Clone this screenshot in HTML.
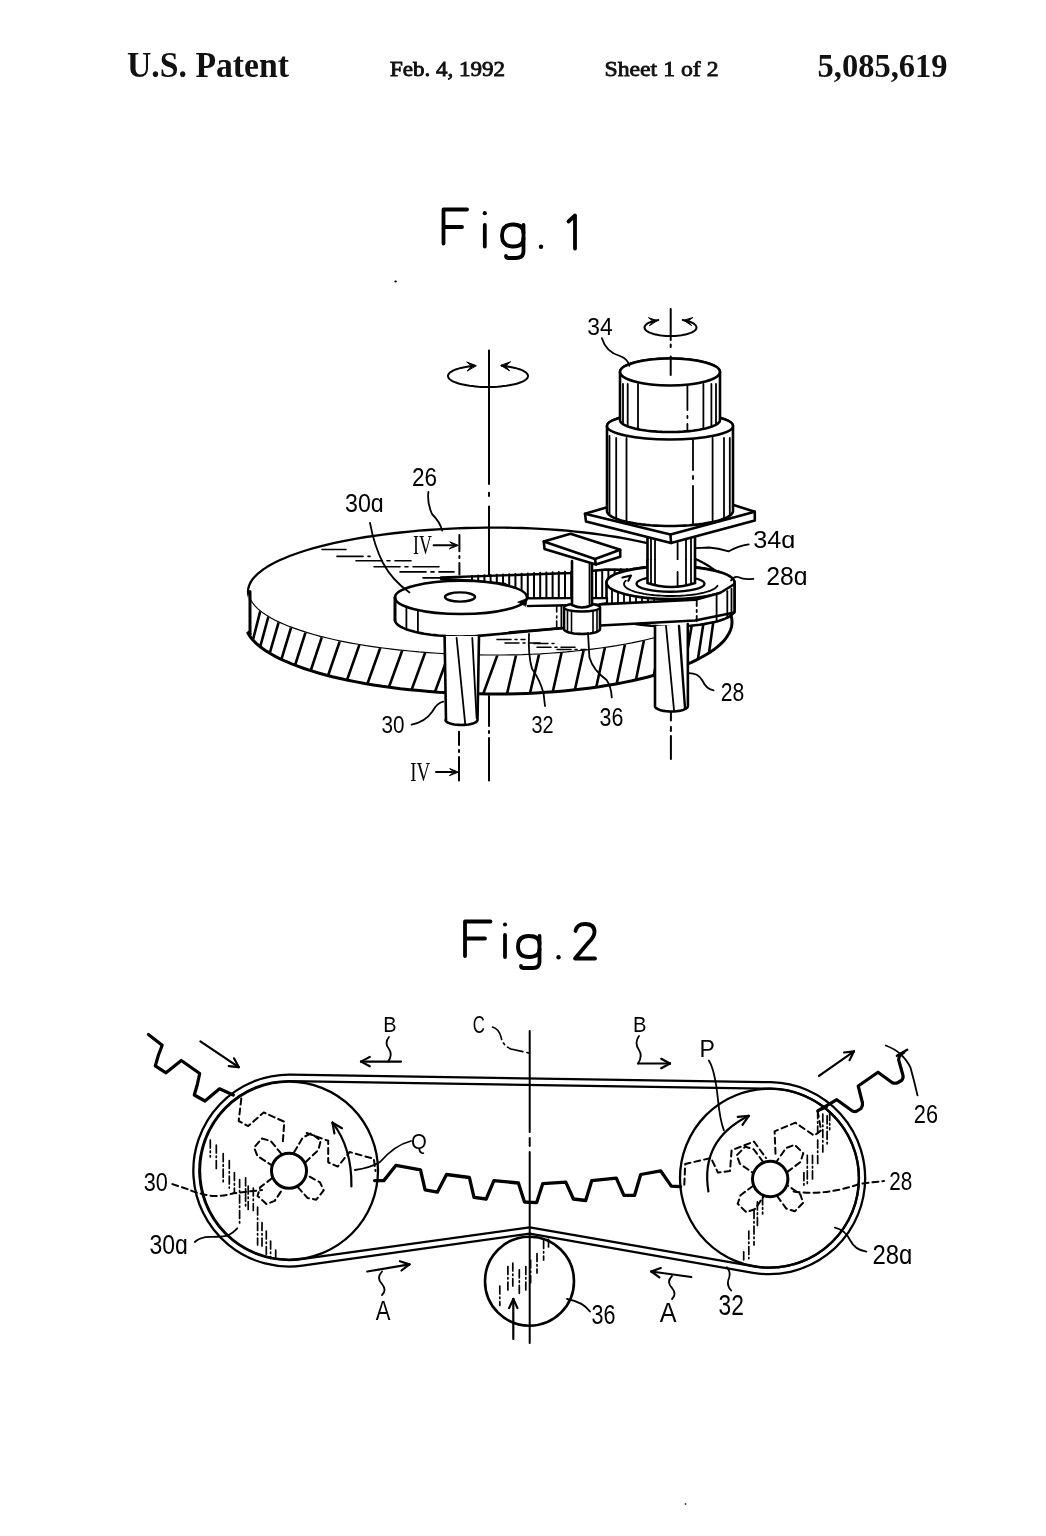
<!DOCTYPE html>
<html><head><meta charset="utf-8"><style>
html,body{margin:0;padding:0;background:#fff;}
body{width:1046px;height:1536px;overflow:hidden;position:relative;}
.h{position:absolute;font-family:"Liberation Serif",serif;font-weight:bold;color:#111;white-space:nowrap;line-height:1;}
svg{position:absolute;left:0;top:0;will-change:transform;}
</style></head><body>
<svg width="1046" height="1536" viewBox="0 0 1046 1536" stroke-linecap="round">
<text x="127" y="76.5" font-family="Liberation Serif" font-weight="bold" font-size="36" textLength="162" lengthAdjust="spacingAndGlyphs" fill="#111">U.S. Patent</text>
<text x="390" y="76" font-family="Liberation Serif" font-size="22" stroke="#111" stroke-width="0.9" textLength="115" lengthAdjust="spacingAndGlyphs" fill="#111">Feb. 4, 1992</text>
<text x="604.5" y="75.8" font-family="Liberation Serif" font-size="22" stroke="#111" stroke-width="0.8" textLength="114" lengthAdjust="spacingAndGlyphs" fill="#111">Sheet 1 of 2</text>
<text x="817.5" y="77" font-family="Liberation Serif" font-weight="bold" font-size="33" textLength="130" lengthAdjust="spacingAndGlyphs" fill="#111">5,085,619</text>
<path d="M443.5 243.5 L443.5 209.5 L467 209.5 M443.5 227 L462 227" stroke="#000" stroke-width="3.8" fill="none" stroke-linejoin="round"/>
<line x1="484.8" y1="225.0" x2="484.8" y2="246.5" stroke="#000" stroke-width="3.8" />
<circle cx="484.8" cy="213.2" r="2.1" fill="#000" stroke="#000" stroke-width="0.01" />
<path d="M523.5 225 L523.5 251 Q523.5 258 516 258 L509 258 Q506 258 506 256" stroke="#000" stroke-width="3.8" fill="none" />
<path d="M523.5 233 Q523.5 224.5 513 224.5 Q502 224.5 502 235.5 Q502 246.5 513 246.5 Q523.5 246.5 523.5 238" stroke="#000" stroke-width="3.8" fill="none" />
<circle cx="541.0" cy="246.8" r="2.2" fill="#000" stroke="#000" stroke-width="0.01" />
<path d="M568.5 221.5 L575 215.5 L575 248.5" stroke="#000" stroke-width="3.8" fill="none" stroke-linejoin="round"/>
<path d="M489 350.5 L489 484 M489 492.7 L489 496 M489 506.5 L489 527" stroke="#000" stroke-width="2" fill="none" />
<path d="M489 696 L489 726 M489 731 L489 733 M489 738 L489 780.5" stroke="#000" stroke-width="2" fill="none" />
<path d="M670.9 712 L670.9 720.5 M670.9 727 L670.9 731 M670.9 736 L670.9 759" stroke="#000" stroke-width="2" fill="none" />
<path d="M474.3 365.7 L471.4 366.0 L468.5 366.4 L465.8 366.9 L463.2 367.4 L460.8 367.9 L458.5 368.6 L456.5 369.2 L454.6 369.9 L453.0 370.7 L451.5 371.5 L450.3 372.3 L449.4 373.1 L448.7 374.0 L448.2 374.9 L448.0 375.7 L448.1 376.6 L448.4 377.5 L448.9 378.3 L449.7 379.2 L450.8 380.0 L452.0 380.8 L453.6 381.6 L455.3 382.3 L457.2 383.0 L459.4 383.7 L461.7 384.3 L464.2 384.8 L466.8 385.3 L469.6 385.8 L472.5 386.1 L475.4 386.4 L478.5 386.7 L481.6 386.9 L484.8 387.0 L488.0 387.0 L491.2 387.0 L494.4 386.9 L497.5 386.7 L500.6 386.4 L503.5 386.1 L506.4 385.8 L509.2 385.3 L511.8 384.8 L514.3 384.3 L516.6 383.7 L518.8 383.0 L520.7 382.3 L522.4 381.6 L524.0 380.8 L525.2 380.0 L526.3 379.2 L527.1 378.3 L527.6 377.5 L527.9 376.6 L528.0 375.7 L527.8 374.9 L527.3 374.0 L526.6 373.1 L525.7 372.3 L524.5 371.5 L523.0 370.7 L521.4 369.9 L519.5 369.2 L517.5 368.6 L515.2 367.9 L512.8 367.4 L510.2 366.9 L507.5 366.4 L504.6 366.0 L501.7 365.7" stroke="#000" stroke-width="2" fill="none" />
<path d="M476.0 365.6 L466.7 362.0 L471.5 366.0 L467.4 370.8 Z" fill="#000" stroke="#000" stroke-width="1" stroke-linejoin="round"/>
<path d="M501.0 365.6 L509.6 370.8 L505.5 366.0 L510.3 362.0 Z" fill="#000" stroke="#000" stroke-width="1" stroke-linejoin="round"/>
<path d="M658.3 320.0 L656.3 320.4 L654.4 320.8 L652.7 321.3 L651.1 321.8 L649.6 322.4 L648.4 323.0 L647.2 323.7 L646.3 324.4 L645.6 325.1 L645.0 325.8 L644.7 326.6 L644.5 327.3 L644.6 328.1 L644.8 328.8 L645.3 329.6 L645.9 330.3 L646.8 331.0 L647.8 331.6 L649.0 332.3 L650.4 332.9 L651.9 333.4 L653.6 334.0 L655.4 334.4 L657.3 334.8 L659.4 335.2 L661.5 335.5 L663.7 335.7 L665.9 335.9 L668.2 336.0 L670.5 336.0 L672.8 336.0 L675.1 335.9 L677.3 335.7 L679.5 335.5 L681.6 335.2 L683.7 334.8 L685.6 334.4 L687.4 334.0 L689.1 333.4 L690.6 332.9 L692.0 332.3 L693.2 331.6 L694.2 331.0 L695.1 330.3 L695.7 329.6 L696.2 328.8 L696.4 328.1 L696.5 327.3 L696.3 326.6 L696.0 325.8 L695.4 325.1 L694.7 324.4 L693.8 323.7 L692.6 323.0 L691.4 322.4 L689.9 321.8 L688.3 321.3 L686.6 320.8 L684.7 320.4 L682.7 320.0" stroke="#000" stroke-width="2" fill="none" />
<path d="M657.0 320.5 L648.4 317.7 L653.0 321.1 L649.5 325.5 Z" fill="#000" stroke="#000" stroke-width="1" stroke-linejoin="round"/>
<path d="M684.0 320.5 L691.5 325.5 L688.0 321.1 L692.6 317.7 Z" fill="#000" stroke="#000" stroke-width="1" stroke-linejoin="round"/>
<defs><clipPath id="dside"><path d="M248.0 591.6 L248.2 594.1 L248.8 596.6 L249.7 599.1 L251.0 601.6 L252.7 604.1 L254.8 606.5 L257.3 609.0 L260.1 611.4 L263.3 613.8 L266.8 616.1 L270.7 618.4 L274.9 620.7 L279.5 622.9 L284.4 625.0 L289.6 627.2 L295.2 629.2 L301.0 631.2 L307.2 633.2 L313.6 635.0 L320.3 636.9 L327.3 638.6 L334.6 640.3 L342.1 641.9 L349.8 643.4 L357.8 644.8 L365.9 646.2 L374.3 647.4 L382.9 648.6 L391.6 649.7 L400.5 650.7 L409.5 651.6 L418.7 652.5 L428.0 653.2 L437.3 653.8 L446.8 654.4 L456.4 654.8 L466.0 655.2 L475.6 655.4 L485.3 655.6 L495.0 655.6 L504.1 655.6 L513.3 655.4 L522.4 655.2 L531.4 654.8 L540.5 654.4 L549.4 653.8 L558.2 653.2 L567.0 652.5 L575.6 651.6 L584.2 650.7 L592.5 649.7 L600.8 648.6 L608.8 647.4 L616.7 646.2 L624.4 644.8 L632.0 643.4 L639.2 641.9 L646.3 640.3 L653.2 638.6 L659.8 636.9 L666.1 635.0 L672.2 633.2 L678.0 631.2 L683.5 629.2 L688.7 627.2 L693.7 625.0 L698.3 622.9 L702.6 620.7 L706.6 618.4 L710.3 616.1 L713.6 613.8 L716.6 611.4 L719.3 609.0 L721.6 606.5 L723.5 604.1 L725.1 601.6 L726.4 599.1 L727.3 596.6 L727.8 594.1 L728.0 591.6 L728.0 591.6 L726.8 607.0 L728.6 609.9 L730.0 612.7 L731.1 615.6 L731.7 618.5 L732.0 621.4 L731.9 624.3 L731.4 627.1 L730.5 630.0 L729.3 632.9 L727.6 635.7 L725.6 638.6 L723.3 641.4 L720.5 644.1 L717.4 646.9 L714.0 649.6 L710.1 652.2 L706.0 654.8 L701.5 657.3 L696.6 659.8 L691.5 662.3 L686.0 664.6 L680.2 666.9 L674.1 669.1 L667.8 671.3 L661.1 673.4 L654.2 675.3 L647.0 677.2 L639.6 679.0 L632.0 680.8 L624.1 682.4 L616.0 683.9 L607.7 685.3 L599.3 686.7 L590.6 687.9 L581.9 689.0 L572.9 690.0 L563.9 690.9 L554.7 691.7 L545.5 692.3 L536.2 692.9 L526.8 693.4 L517.3 693.7 L507.8 693.9 L498.3 694.0 L488.5 694.0 L478.4 693.8 L468.4 693.6 L458.5 693.2 L448.6 692.7 L438.8 692.2 L429.0 691.4 L419.4 690.6 L409.9 689.7 L400.5 688.7 L391.3 687.5 L382.3 686.3 L373.4 684.9 L364.7 683.5 L356.3 681.9 L348.1 680.2 L340.1 678.5 L332.3 676.7 L324.8 674.7 L317.6 672.7 L310.7 670.6 L304.1 668.5 L297.7 666.2 L291.7 663.9 L286.0 661.5 L280.7 659.1 L275.7 656.6 L271.1 654.0 L266.8 651.4 L262.9 648.7 L259.3 646.0 L256.2 643.3 L253.4 640.5 L251.0 637.7 L249.0 634.9 L247.4 632.0 L250.0 634.0 Z"/></clipPath></defs>
<path d="M728.0 591.6 L727.8 594.1 L727.3 596.6 L726.4 599.1 L725.1 601.6 L723.5 604.1 L721.6 606.5 L719.3 609.0 L716.6 611.4 L713.6 613.8 L710.3 616.1 L706.6 618.4 L702.6 620.7 L698.3 622.9 L693.7 625.0 L688.7 627.2 L683.5 629.2 L678.0 631.2 L672.2 633.2 L666.1 635.0 L659.8 636.9 L653.2 638.6 L646.3 640.3 L639.2 641.9 L632.0 643.4 L624.4 644.8 L616.7 646.2 L608.8 647.4 L600.8 648.6 L592.5 649.7 L584.2 650.7 L575.6 651.6 L567.0 652.5 L558.2 653.2 L549.4 653.8 L540.5 654.4 L531.4 654.8 L522.4 655.2 L513.3 655.4 L504.1 655.6 L495.0 655.6 L485.3 655.6 L475.6 655.4 L466.0 655.2 L456.4 654.8 L446.8 654.4 L437.3 653.8 L428.0 653.2 L418.7 652.5 L409.5 651.6 L400.5 650.7 L391.6 649.7 L382.9 648.6 L374.3 647.4 L365.9 646.2 L357.8 644.8 L349.8 643.4 L342.1 641.9 L334.6 640.3 L327.3 638.6 L320.3 636.9 L313.6 635.0 L307.2 633.2 L301.0 631.2 L295.2 629.2 L289.6 627.2 L284.4 625.0 L279.5 622.9 L274.9 620.7 L270.7 618.4 L266.8 616.1 L263.3 613.8 L260.1 611.4 L257.3 609.0 L254.8 606.5 L252.7 604.1 L251.0 601.6 L249.7 599.1 L248.8 596.6 L248.2 594.1 L248.0 591.6 L248.2 589.1 L248.8 586.6 L249.7 584.1 L251.0 581.6 L252.7 579.1 L254.8 576.7 L257.3 574.2 L260.1 571.8 L263.3 569.4 L266.8 567.1 L270.7 564.8 L274.9 562.5 L279.5 560.3 L284.4 558.2 L289.6 556.0 L295.2 554.0 L301.0 552.0 L307.2 550.0 L313.6 548.2 L320.3 546.3 L327.3 544.6 L334.6 542.9 L342.1 541.3 L349.8 539.8 L357.8 538.4 L365.9 537.0 L374.3 535.8 L382.9 534.6 L391.6 533.5 L400.5 532.5 L409.5 531.6 L418.7 530.7 L428.0 530.0 L437.3 529.4 L446.8 528.8 L456.4 528.4 L466.0 528.0 L475.6 527.8 L485.3 527.6 L495.0 527.6 L504.1 527.6 L513.3 527.8 L522.4 528.0 L531.4 528.4 L540.5 528.8 L549.4 529.4 L558.2 530.0 L567.0 530.7 L575.6 531.6 L584.2 532.5 L592.5 533.5 L600.8 534.6 L608.8 535.8 L616.7 537.0 L624.4 538.4 L632.0 539.8 L639.2 541.3 L646.3 542.9 L653.2 544.6 L659.8 546.3 L666.1 548.2 L672.2 550.0 L678.0 552.0 L683.5 554.0 L688.7 556.0 L693.7 558.2 L698.3 560.3 L702.6 562.5 L706.6 564.8 L710.3 567.1 L713.6 569.4 L716.6 571.8 L719.3 574.2 L721.6 576.7 L723.5 579.1 L725.1 581.6 L726.4 584.1 L727.3 586.6 L727.8 589.1 Z" fill="#fff" stroke="#000" stroke-width="2.3" stroke-linejoin="round" />
<path d="M248.0 591.6 L248.2 594.1 L248.8 596.6 L249.7 599.1 L251.0 601.6 L252.7 604.1 L254.8 606.5 L257.3 609.0 L260.1 611.4 L263.3 613.8 L266.8 616.1 L270.7 618.4 L274.9 620.7 L279.5 622.9 L284.4 625.0 L289.6 627.2 L295.2 629.2 L301.0 631.2 L307.2 633.2 L313.6 635.0 L320.3 636.9 L327.3 638.6 L334.6 640.3 L342.1 641.9 L349.8 643.4 L357.8 644.8 L365.9 646.2 L374.3 647.4 L382.9 648.6 L391.6 649.7 L400.5 650.7 L409.5 651.6 L418.7 652.5 L428.0 653.2 L437.3 653.8 L446.8 654.4 L456.4 654.8 L466.0 655.2 L475.6 655.4 L485.3 655.6 L495.0 655.6 L504.1 655.6 L513.3 655.4 L522.4 655.2 L531.4 654.8 L540.5 654.4 L549.4 653.8 L558.2 653.2 L567.0 652.5 L575.6 651.6 L584.2 650.7 L592.5 649.7 L600.8 648.6 L608.8 647.4 L616.7 646.2 L624.4 644.8 L632.0 643.4 L639.2 641.9 L646.3 640.3 L653.2 638.6 L659.8 636.9 L666.1 635.0 L672.2 633.2 L678.0 631.2 L683.5 629.2 L688.7 627.2 L693.7 625.0 L698.3 622.9 L702.6 620.7 L706.6 618.4 L710.3 616.1 L713.6 613.8 L716.6 611.4 L719.3 609.0 L721.6 606.5 L723.5 604.1 L725.1 601.6 L726.4 599.1 L727.3 596.6 L727.8 594.1 L728.0 591.6 L728.0 591.6 L726.8 607.0 L728.6 609.9 L730.0 612.7 L731.1 615.6 L731.7 618.5 L732.0 621.4 L731.9 624.3 L731.4 627.1 L730.5 630.0 L729.3 632.9 L727.6 635.7 L725.6 638.6 L723.3 641.4 L720.5 644.1 L717.4 646.9 L714.0 649.6 L710.1 652.2 L706.0 654.8 L701.5 657.3 L696.6 659.8 L691.5 662.3 L686.0 664.6 L680.2 666.9 L674.1 669.1 L667.8 671.3 L661.1 673.4 L654.2 675.3 L647.0 677.2 L639.6 679.0 L632.0 680.8 L624.1 682.4 L616.0 683.9 L607.7 685.3 L599.3 686.7 L590.6 687.9 L581.9 689.0 L572.9 690.0 L563.9 690.9 L554.7 691.7 L545.5 692.3 L536.2 692.9 L526.8 693.4 L517.3 693.7 L507.8 693.9 L498.3 694.0 L488.5 694.0 L478.4 693.8 L468.4 693.6 L458.5 693.2 L448.6 692.7 L438.8 692.2 L429.0 691.4 L419.4 690.6 L409.9 689.7 L400.5 688.7 L391.3 687.5 L382.3 686.3 L373.4 684.9 L364.7 683.5 L356.3 681.9 L348.1 680.2 L340.1 678.5 L332.3 676.7 L324.8 674.7 L317.6 672.7 L310.7 670.6 L304.1 668.5 L297.7 666.2 L291.7 663.9 L286.0 661.5 L280.7 659.1 L275.7 656.6 L271.1 654.0 L266.8 651.4 L262.9 648.7 L259.3 646.0 L256.2 643.3 L253.4 640.5 L251.0 637.7 L249.0 634.9 L247.4 632.0 L250.0 634.0 Z" fill="#fff" stroke="none"/>
<path d="M252.2 642.9 L260.9 608.6 M259.4 649.7 L269.1 614.0 M268.8 656.3 L279.5 619.4 M280.4 662.6 L292.0 624.5 M294.0 668.5 L306.5 629.4 M309.6 674.0 L322.9 633.9 M326.9 679.0 L340.9 638.0 M345.8 683.5 L360.5 641.6 M366.1 687.5 L381.4 644.7 M387.6 690.8 L403.4 647.3 M410.2 693.6 L426.4 649.3 M433.6 695.6 L450.1 650.7 M457.5 697.0 L474.2 651.6 M481.8 697.8 L498.6 651.8 M506.1 697.8 L516.9 651.5 M529.1 697.1 L539.9 650.6 M551.9 695.7 L562.4 649.0 M574.0 693.7 L584.4 646.9 M595.4 691.0 L605.6 644.2 M615.9 687.7 L625.7 640.8 M635.2 683.8 L644.6 636.9 M653.1 679.3 L662.1 632.5 M669.6 674.4 L678.0 627.5 M684.4 668.9 L692.3 622.0 M697.3 663.1 L704.6 615.9 M708.4 657.0 L715.1 609.1" stroke="#000" stroke-width="2.6" fill="none" clip-path="url(#dside)"/>
<path d="M250 634 L247.4 632.0 L249.0 634.9 L251.0 637.7 L253.4 640.5 L256.2 643.3 L259.3 646.0 L262.9 648.7 L266.8 651.4 L271.1 654.0 L275.7 656.6 L280.7 659.1 L286.0 661.5 L291.7 663.9 L297.7 666.2 L304.1 668.5 L310.7 670.6 L317.6 672.7 L324.8 674.7 L332.3 676.7 L340.1 678.5 L348.1 680.2 L356.3 681.9 L364.7 683.5 L373.4 684.9 L382.3 686.3 L391.3 687.5 L400.5 688.7 L409.9 689.7 L419.4 690.6 L429.0 691.4 L438.8 692.2 L448.6 692.7 L458.5 693.2 L468.4 693.6 L478.4 693.8 L488.5 694.0 L498.3 694.0 L507.8 693.9 L517.3 693.7 L526.8 693.4 L536.2 692.9 L545.5 692.3 L554.7 691.7 L563.9 690.9 L572.9 690.0 L581.9 689.0 L590.6 687.9 L599.3 686.7 L607.7 685.3 L616.0 683.9 L624.1 682.4 L632.0 680.8 L639.6 679.0 L647.0 677.2 L654.2 675.3 L661.1 673.4 L667.8 671.3 L674.1 669.1 L680.2 666.9 L686.0 664.6 L691.5 662.3 L696.6 659.8 L701.5 657.3 L706.0 654.8 L710.1 652.2 L714.0 649.6 L717.4 646.9 L720.5 644.1 L723.3 641.4 L725.6 638.6 L727.6 635.7 L729.3 632.9 L730.5 630.0 L731.4 627.1 L731.9 624.3 L732.0 621.4 L731.7 618.5 L731.1 615.6 L730.0 612.7 L728.6 609.9 L726.8 607.0" stroke="#000" stroke-width="3" fill="none" />
<line x1="250.0" y1="591.6" x2="250.0" y2="634.0" stroke="#000" stroke-width="3" />
<path d="M489 527 L489 576" stroke="#000" stroke-width="2" fill="none" />
<line x1="322.0" y1="549.5" x2="346.0" y2="549.5" stroke="#000" stroke-width="1.6" stroke-dasharray="26 5 3 5"/>
<line x1="337.0" y1="556.4" x2="370.0" y2="556.4" stroke="#000" stroke-width="1.6" stroke-dasharray="26 5 3 5"/>
<line x1="356.0" y1="560.7" x2="411.0" y2="560.7" stroke="#000" stroke-width="1.6" stroke-dasharray="26 5 3 5"/>
<line x1="374.0" y1="566.7" x2="439.0" y2="566.7" stroke="#000" stroke-width="1.6" stroke-dasharray="26 5 3 5"/>
<line x1="400.0" y1="571.9" x2="454.0" y2="571.9" stroke="#000" stroke-width="1.6" stroke-dasharray="26 5 3 5"/>
<line x1="423.0" y1="577.9" x2="470.0" y2="577.9" stroke="#000" stroke-width="1.6" stroke-dasharray="26 5 3 5"/>
<path d="M441.0 577.5 L571.0 573.0 L606.0 569.5 L640.0 570.0 L640.0 598.0 L526.0 598.5 L505.0 584.0 L470.0 580.5 L441.0 579.0 Z" fill="#fff" stroke="#000" stroke-width="2.4" stroke-linejoin="round" />
<path d="M472.0 575.9 L472.0 598 M478.2 575.6 L478.2 598 M484.4 575.3 L484.4 598 M490.6 575.0 L490.6 598 M496.8 574.8 L496.8 598 M503.0 574.5 L503.0 598 M509.2 574.2 L509.2 598 M515.4 573.9 L515.4 598 M521.6 573.7 L521.6 598 M527.8 573.4 L527.8 598 M534.0 573.1 L534.0 598 M540.2 572.8 L540.2 598 M546.4 572.5 L546.4 598 M552.6 572.3 L552.6 598 M558.8 572.0 L558.8 598 M565.0 571.7 L565.0 598 M571.2 571.4 L571.2 598 M577.4 571.1 L577.4 598 M583.6 570.9 L583.6 598 M589.8 570.6 L589.8 598 M596.0 570.3 L596.0 598 M602.2 570.0 L602.2 598 M608.4 569.7 L608.4 598 M614.6 569.5 L614.6 598 M620.8 569.2 L620.8 598 M627.0 568.9 L627.0 598 M633.2 568.6 L633.2 598 M639.4 568.4 L639.4 598" stroke="#000" stroke-width="2" fill="none"/>
<path d="M647.5 530.0 L647.5 584.0 L695.0 584.0 L695.0 525.0" fill="#fff" stroke="#000" stroke-width="2.6" stroke-linejoin="round" />
<line x1="651.0" y1="530.0" x2="651.0" y2="582.0" stroke="#000" stroke-width="1.8" />
<line x1="655.0" y1="530.0" x2="655.0" y2="582.0" stroke="#000" stroke-width="1.8" />
<line x1="686.0" y1="530.0" x2="686.0" y2="582.0" stroke="#000" stroke-width="1.8" />
<line x1="691.0" y1="530.0" x2="691.0" y2="582.0" stroke="#000" stroke-width="1.8" />
<path d="M677.6 530 L677.6 560 M677.6 565 L677.6 567 M677.6 572 L677.6 584" stroke="#000" stroke-width="1.8" fill="none" />
<path d="M585.0 513.8 L676.7 486.7 L754.8 511.8 L754.8 520.5 L671.0 543.0 L586.0 521.5 Z" fill="#fff" stroke="#000" stroke-width="2.6" stroke-linejoin="round" />
<path d="M585.0 513.8 L670.5 534.5 L754.8 511.8" fill="none" stroke="#000" stroke-width="2.6" stroke-linejoin="round" />
<line x1="670.5" y1="534.5" x2="671.0" y2="543.0" stroke="#000" stroke-width="2.6" />
<path d="M607.0 426.0 L607.2 424.9 L607.8 423.9 L608.7 422.8 L610.1 421.8 L611.8 420.8 L613.9 419.9 L616.3 418.9 L619.0 418.1 L622.1 417.2 L625.5 416.5 L629.1 415.7 L633.0 415.1 L637.1 414.5 L641.4 414.0 L645.9 413.5 L650.5 413.2 L655.3 412.9 L660.1 412.7 L665.1 412.5 L670.0 412.5 L674.9 412.5 L679.9 412.7 L684.7 412.9 L689.5 413.2 L694.1 413.5 L698.6 414.0 L702.9 414.5 L707.0 415.1 L710.9 415.7 L714.5 416.5 L717.9 417.2 L721.0 418.1 L723.7 418.9 L726.1 419.9 L728.2 420.8 L729.9 421.8 L731.3 422.8 L732.2 423.9 L732.8 424.9 L733.0 426.0 L733.0 511.0 L732.8 512.2 L732.2 513.3 L731.3 514.5 L729.9 515.6 L728.2 516.7 L726.1 517.8 L723.7 518.8 L721.0 519.8 L717.9 520.7 L714.5 521.6 L710.9 522.4 L707.0 523.1 L702.9 523.8 L698.6 524.4 L694.1 524.9 L689.5 525.3 L684.7 525.6 L679.9 525.8 L674.9 526.0 L670.0 526.0 L665.1 526.0 L660.1 525.8 L655.3 525.6 L650.5 525.3 L645.9 524.9 L641.4 524.4 L637.1 523.8 L633.0 523.1 L629.1 522.4 L625.5 521.6 L622.1 520.7 L619.0 519.8 L616.3 518.8 L613.9 517.8 L611.8 516.7 L610.1 515.6 L608.7 514.5 L607.8 513.3 L607.2 512.2 L607.0 511.0 Z" fill="#fff" stroke="#000" stroke-width="2.6" stroke-linejoin="round" />
<ellipse cx="670.0" cy="426.0" rx="63.0" ry="13.5" fill="#fff" stroke="#000" stroke-width="2.6" />
<line x1="616.2" y1="438.0" x2="616.2" y2="517.8" stroke="#000" stroke-width="1.8" />
<line x1="626.5" y1="438.0" x2="626.5" y2="520.9" stroke="#000" stroke-width="1.8" />
<line x1="712.6" y1="438.0" x2="712.6" y2="521.1" stroke="#000" stroke-width="1.8" />
<line x1="724.0" y1="438.0" x2="724.0" y2="517.7" stroke="#000" stroke-width="1.8" />
<line x1="729.8" y1="438.0" x2="729.8" y2="514.7" stroke="#000" stroke-width="1.8" />
<line x1="609.5" y1="436.0" x2="609.5" y2="514.0" stroke="#000" stroke-width="1.8" />
<path d="M693 440 L693 470 M693 476 L693 479 M693 486 L693 524" stroke="#000" stroke-width="1.8" fill="none" />
<path d="M620.0 372.0 L620.2 370.9 L620.6 369.9 L621.4 368.8 L622.4 367.8 L623.8 366.8 L625.4 365.9 L627.4 364.9 L629.5 364.1 L632.0 363.2 L634.6 362.5 L637.5 361.7 L640.6 361.1 L643.9 360.5 L647.3 360.0 L650.9 359.5 L654.5 359.2 L658.3 358.9 L662.2 358.7 L666.1 358.5 L670.0 358.5 L673.9 358.5 L677.8 358.7 L681.7 358.9 L685.5 359.2 L689.1 359.5 L692.7 360.0 L696.1 360.5 L699.4 361.1 L702.5 361.7 L705.4 362.5 L708.0 363.2 L710.5 364.1 L712.6 364.9 L714.6 365.9 L716.2 366.8 L717.6 367.8 L718.6 368.8 L719.4 369.9 L719.8 370.9 L720.0 372.0 L720.0 420.0 L719.8 420.9 L719.4 421.9 L718.6 422.8 L717.6 423.7 L716.2 424.6 L714.6 425.4 L712.6 426.3 L710.5 427.1 L708.0 427.8 L705.4 428.5 L702.5 429.1 L699.4 429.7 L696.1 430.2 L692.7 430.7 L689.1 431.1 L685.5 431.4 L681.7 431.7 L677.8 431.9 L673.9 432.0 L670.0 432.0 L666.1 432.0 L662.2 431.9 L658.3 431.7 L654.5 431.4 L650.9 431.1 L647.3 430.7 L643.9 430.2 L640.6 429.7 L637.5 429.1 L634.6 428.5 L632.0 427.8 L629.5 427.1 L627.4 426.3 L625.4 425.4 L623.8 424.6 L622.4 423.7 L621.4 422.8 L620.6 421.9 L620.2 420.9 L620.0 420.0 Z" fill="#fff" stroke="#000" stroke-width="2.6" stroke-linejoin="round" />
<ellipse cx="670.0" cy="372.0" rx="50.0" ry="13.5" fill="#fff" stroke="#000" stroke-width="2.6" />
<line x1="623.0" y1="384.0" x2="623.0" y2="423.1" stroke="#000" stroke-width="1.8" />
<line x1="627.7" y1="384.0" x2="627.7" y2="425.4" stroke="#000" stroke-width="1.8" />
<line x1="638.0" y1="384.0" x2="638.0" y2="428.2" stroke="#000" stroke-width="1.8" />
<line x1="703.4" y1="384.0" x2="703.4" y2="427.9" stroke="#000" stroke-width="1.8" />
<line x1="711.4" y1="384.0" x2="711.4" y2="425.7" stroke="#000" stroke-width="1.8" />
<line x1="716.0" y1="384.0" x2="716.0" y2="423.7" stroke="#000" stroke-width="1.8" />
<path d="M687.4 386 L687.4 410 M687.4 416 L687.4 418 M687.4 424 L687.4 431" stroke="#000" stroke-width="1.8" fill="none" />
<path d="M670.7 309 L670.7 340 M670.7 344.5 L670.7 347 M670.7 356.6 L670.7 375" stroke="#000" stroke-width="2" fill="none" />
<path d="M606.5 582.6 L606.7 581.3 L607.3 580.0 L608.3 578.7 L609.6 577.5 L611.4 576.3 L613.5 575.1 L615.9 574.0 L618.7 572.9 L621.8 571.9 L625.2 570.9 L628.9 570.1 L632.9 569.3 L637.1 568.5 L641.4 567.9 L646.0 567.4 L650.7 566.9 L655.6 566.6 L660.5 566.3 L665.5 566.2 L670.5 566.1 L675.5 566.2 L680.5 566.3 L685.4 566.6 L690.3 566.9 L695.0 567.4 L699.6 567.9 L703.9 568.5 L708.1 569.3 L712.1 570.1 L715.8 570.9 L719.2 571.9 L722.3 572.9 L725.1 574.0 L727.5 575.1 L729.6 576.3 L731.4 577.5 L732.7 578.7 L733.7 580.0 L734.3 581.3 L734.5 582.6 L734.5 610.0 L734.5 610.0 L734.3 611.3 L733.7 612.6 L732.7 613.9 L731.4 615.1 L729.6 616.3 L727.5 617.5 L725.1 618.6 L722.3 619.7 L719.2 620.7 L715.8 621.7 L712.1 622.5 L708.1 623.3 L703.9 624.1 L699.6 624.7 L695.0 625.2 L690.3 625.7 L685.4 626.0 L680.5 626.3 L675.5 626.4 L670.5 626.5 L665.5 626.4 L660.5 626.3 L655.6 626.0 L650.7 625.7 L646.0 625.2 L641.4 624.7 L637.1 624.1 L632.9 623.3 L628.9 622.5 L625.2 621.7 L621.8 620.7 L618.7 619.7 L615.9 618.6 L613.5 617.5 L611.4 616.3 L609.6 615.1 L608.3 613.9 L607.3 612.6 L606.7 611.3 L606.5 610.0 Z" fill="#fff" stroke="#000" stroke-width="2.6" stroke-linejoin="round" />
<ellipse cx="670.5" cy="582.6" rx="64.0" ry="16.5" fill="#fff" stroke="#000" stroke-width="2.6" />
<ellipse cx="670.5" cy="583.8" rx="34.0" ry="8.0" fill="#fff" stroke="#000" stroke-width="2.4" />
<path d="M647.5 570.0 L647.5 585.0 L695.0 585.0 L695.0 570.0" fill="#fff" stroke="#000" stroke-width="0.01" stroke-linejoin="round" />
<path d="M647.5 560 L647.5 583 Q671 591 695 583 L695 560" stroke="#000" stroke-width="2.6" fill="#fff"/>
<line x1="651.0" y1="560.0" x2="651.0" y2="584.0" stroke="#000" stroke-width="1.8" />
<line x1="655.0" y1="560.0" x2="655.0" y2="584.0" stroke="#000" stroke-width="1.8" />
<line x1="686.0" y1="560.0" x2="686.0" y2="584.0" stroke="#000" stroke-width="1.8" />
<line x1="691.0" y1="560.0" x2="691.0" y2="584.0" stroke="#000" stroke-width="1.8" />
<line x1="677.6" y1="572.0" x2="677.6" y2="587.0" stroke="#000" stroke-width="1.8" />
<path d="M625.8 580.7 L625.1 581.5 L624.5 582.2 L624.2 583.0 L624.0 583.8 L624.1 584.6 L624.3 585.4 L624.8 586.1 L625.4 586.9 L626.3 587.7 L627.3 588.4 L628.5 589.1 L629.9 589.8 L631.5 590.5 L633.3 591.2 L635.2 591.8 L637.3 592.4 L639.5 592.9 L641.9 593.4 L644.3 593.9 L646.9 594.3 L649.6 594.7 L652.4 595.0 L655.3 595.3 L658.2 595.5 L661.2 595.7 L664.3 595.9 L667.3 596.0 L670.4 596.0 L673.5 596.0 L676.6 595.9 L679.6 595.8 L682.6 595.6 L685.6 595.4 L688.5 595.1 L691.3 594.8 L694.0 594.5 L696.7 594.1 L699.2 593.6 L701.6 593.1 L703.9 592.6 L706.0 592.0 L708.0 591.4 L709.8 590.8 L711.5 590.1 L713.0 589.4 L714.3 588.7 L715.4 588.0 L716.3 587.2 L717.0 586.4 L717.5 585.7" stroke="#000" stroke-width="1.8" fill="none" />
<path d="M622.5 577.5 L631 575.5 L628.3 580.8" stroke="#000" stroke-width="2.2" fill="none" stroke-linejoin="round"/>
<path d="M612 589.3 L612 604 M618 592.0 L618 604 M624 593.9 L624 604 M630 595.4 L630 604 M636 596.5 L636 604 M642 597.4 L642 604 M648 598.0 L648 604 M654 598.5 L654 604" stroke="#000" stroke-width="1.8" fill="none"/>
<path d="M524.0 606.0 L598.8 604.4 L695.2 599.8 L720.0 593.0 L734.5 584.0 L734.5 612.4 L695.0 620.5 L600.0 625.5 L563.6 628.0 L490.0 634.0 L470.0 630.0 L500.0 606.0 Z" fill="#fff" stroke="#000" stroke-width="2.6" stroke-linejoin="round" />
<line x1="716.6" y1="595.0" x2="716.6" y2="620.4" stroke="#000" stroke-width="1.8" />
<line x1="727.3" y1="591.2" x2="727.3" y2="616.6" stroke="#000" stroke-width="1.8" />
<line x1="731.5" y1="588.6" x2="731.5" y2="614.0" stroke="#000" stroke-width="1.8" />
<path d="M696.7 599 L696.7 606 M696.7 610 L696.7 612 M696.7 616 L696.7 621" stroke="#000" stroke-width="1.8" fill="none" />
<path d="M526.0 598.5 L607.0 598.0 L607.0 603.2 L598.8 604.4 L524.0 606.0 Z" fill="#fff" stroke="#000" stroke-width="2.2" stroke-linejoin="round" />
<path d="M395.0 597.4 L395.2 596.1 L395.8 594.8 L396.8 593.5 L398.2 592.3 L400.0 591.0 L402.2 589.9 L404.7 588.7 L407.6 587.6 L410.8 586.6 L414.3 585.7 L418.1 584.8 L422.2 584.0 L426.5 583.2 L431.0 582.6 L435.7 582.1 L440.6 581.6 L445.6 581.3 L450.7 581.0 L455.8 580.9 L461.0 580.8 L466.2 580.9 L471.3 581.0 L476.4 581.3 L481.4 581.6 L486.3 582.1 L491.0 582.6 L495.5 583.2 L499.8 584.0 L503.9 584.8 L507.7 585.7 L511.2 586.6 L514.4 587.6 L517.3 588.7 L519.8 589.9 L522.0 591.0 L523.8 592.3 L525.2 593.5 L526.2 594.8 L526.8 596.1 L527.0 597.4 L527.0 622.0 L527.0 620.0 L526.8 621.3 L526.2 622.6 L525.2 623.9 L523.8 625.1 L522.0 626.3 L519.8 627.5 L517.3 628.6 L514.4 629.7 L511.2 630.7 L507.7 631.7 L503.9 632.5 L499.8 633.3 L495.5 634.1 L491.0 634.7 L486.3 635.2 L481.4 635.7 L476.4 636.0 L471.3 636.3 L466.2 636.4 L461.0 636.5 L455.8 636.4 L450.7 636.3 L445.6 636.0 L440.6 635.7 L435.7 635.2 L431.0 634.7 L426.5 634.1 L422.2 633.3 L418.1 632.5 L414.3 631.7 L410.8 630.7 L407.6 629.7 L404.7 628.6 L402.2 627.5 L400.0 626.3 L398.2 625.1 L396.8 623.9 L395.8 622.6 L395.2 621.3 L395.0 620.0 Z" fill="#fff" stroke="#000" stroke-width="0.01" stroke-linejoin="round" />
<ellipse cx="461.0" cy="597.4" rx="66.0" ry="16.6" fill="#fff" stroke="#000" stroke-width="2.6" />
<line x1="395.0" y1="597.4" x2="395.0" y2="620.0" stroke="#000" stroke-width="3" />
<path d="M395.0 620.0 L395.1 621.0 L395.5 622.0 L396.1 623.0 L397.0 624.0 L398.1 625.0 L399.4 625.9 L400.9 626.8 L402.7 627.7 L404.7 628.6 L406.9 629.5 L409.3 630.3 L412.0 631.0 L414.7 631.8 L417.7 632.5 L420.8 633.1 L424.1 633.7 L427.5 634.2 L431.0 634.7 L434.7 635.1 L438.4 635.5 L442.3 635.8 L446.2 636.1 L450.1 636.3 L454.1 636.4 L458.1 636.5 L462.2 636.5 L466.2 636.4 L470.2 636.3 L474.2 636.2 L478.1 635.9 L563.6 628" stroke="#000" stroke-width="2.6" fill="none" />
<ellipse cx="460.0" cy="597.0" rx="15.0" ry="4.6" fill="none" stroke="#000" stroke-width="2.4" />
<line x1="406.4" y1="606.7" x2="406.4" y2="628.7" stroke="#000" stroke-width="1.8" />
<line x1="417.9" y1="610.0" x2="417.9" y2="632.0" stroke="#000" stroke-width="1.8" />
<path d="M518 602 L527 598.5 L526 606 Z" stroke="#000" stroke-width="0.8" fill="#000"/>
<path d="M556.7 606 L556.7 612 M556.7 616 L556.7 618 M556.7 621 L556.7 627" stroke="#000" stroke-width="1.6" fill="none" />
<line x1="561.3" y1="605.0" x2="561.3" y2="627.0" stroke="#000" stroke-width="1.6" />
<line x1="497.0" y1="639.5" x2="525.0" y2="639.5" stroke="#000" stroke-width="1.5" stroke-dasharray="14 4 2 4"/>
<line x1="534.0" y1="643.4" x2="556.0" y2="643.4" stroke="#000" stroke-width="1.5" stroke-dasharray="14 4 2 4"/>
<line x1="537.0" y1="647.2" x2="577.0" y2="647.2" stroke="#000" stroke-width="1.5" stroke-dasharray="14 4 2 4"/>
<line x1="557.0" y1="649.5" x2="586.0" y2="649.5" stroke="#000" stroke-width="1.5" stroke-dasharray="14 4 2 4"/>
<line x1="505.0" y1="643.0" x2="540.0" y2="643.0" stroke="#000" stroke-width="1.5" stroke-dasharray="14 4 2 4"/>
<path d="M564.0 607.5 L564.2 606.9 L564.9 606.3 L566.0 605.7 L567.4 605.1 L569.3 604.7 L571.4 604.3 L573.8 603.9 L576.4 603.7 L579.2 603.5 L582.0 603.5 L584.8 603.5 L587.6 603.7 L590.2 603.9 L592.6 604.3 L594.7 604.7 L596.6 605.1 L598.0 605.7 L599.1 606.3 L599.8 606.9 L600.0 607.5 L600.0 629.0 L599.8 629.8 L599.1 630.5 L598.0 631.3 L596.6 631.9 L594.7 632.5 L592.6 633.0 L590.2 633.5 L587.6 633.8 L584.8 633.9 L582.0 634.0 L579.2 633.9 L576.4 633.8 L573.8 633.5 L571.4 633.0 L569.3 632.5 L567.4 631.9 L566.0 631.3 L564.9 630.5 L564.2 629.8 L564.0 629.0 Z" fill="#fff" stroke="#000" stroke-width="2.6" stroke-linejoin="round" />
<ellipse cx="582.0" cy="607.5" rx="18.0" ry="4.0" fill="#fff" stroke="#000" stroke-width="2.4" />
<line x1="567.5" y1="611.0" x2="567.5" y2="632.0" stroke="#000" stroke-width="1.6" />
<line x1="571.5" y1="611.0" x2="571.5" y2="632.0" stroke="#000" stroke-width="1.6" />
<line x1="593.0" y1="611.0" x2="593.0" y2="632.0" stroke="#000" stroke-width="1.6" />
<line x1="597.0" y1="611.0" x2="597.0" y2="632.0" stroke="#000" stroke-width="1.6" />
<path d="M572 561 L572 605 Q582 610 592 605 L592 561" stroke="#000" stroke-width="2.6" fill="#fff"/>
<line x1="589.5" y1="563.0" x2="589.5" y2="604.0" stroke="#000" stroke-width="1.8" />
<path d="M543.8 541.4 L570.5 533.8 L620.2 549.8 L620.2 556.7 L595.8 564.4 L544.5 549.0 Z" fill="#fff" stroke="#000" stroke-width="2.6" stroke-linejoin="round" />
<path d="M543.8 541.4 L595.0 559.0 L620.2 549.8" fill="none" stroke="#000" stroke-width="2.6" stroke-linejoin="round" />
<line x1="595.0" y1="559.0" x2="595.8" y2="564.4" stroke="#000" stroke-width="2.6" />
<path d="M444.6 636.0 L446.0 720.0 L445.5 720.0 L445.7 720.8 L446.3 721.5 L447.2 722.3 L448.6 722.9 L450.2 723.5 L452.1 724.0 L454.2 724.5 L456.6 724.8 L459.0 724.9 L461.5 725.0 L464.0 724.9 L466.4 724.8 L468.8 724.5 L470.9 724.0 L472.8 723.5 L474.4 722.9 L475.8 722.3 L476.7 721.5 L477.3 720.8 L477.5 720.0 L479.0 636.0" fill="#fff" stroke="#000" stroke-width="2.6" stroke-linejoin="round" />
<line x1="456.6" y1="638.0" x2="465.2" y2="723.8" stroke="#000" stroke-width="1.8" />
<line x1="472.3" y1="638.0" x2="476.6" y2="718.0" stroke="#000" stroke-width="1.8" />
<path d="M655.0 626.0 L655.0 706.0 L654.9 706.0 L655.1 706.9 L655.7 707.7 L656.7 708.5 L658.1 709.2 L659.7 709.9 L661.7 710.4 L663.9 710.9 L666.3 711.2 L668.8 711.4 L671.4 711.5 L674.0 711.4 L676.5 711.2 L678.9 710.9 L681.1 710.4 L683.1 709.9 L684.7 709.2 L686.1 708.5 L687.1 707.7 L687.7 706.9 L687.9 706.0 L687.8 624.0" fill="#fff" stroke="#000" stroke-width="2.6" stroke-linejoin="round" />
<line x1="666.0" y1="626.0" x2="674.0" y2="710.0" stroke="#000" stroke-width="1.8" />
<line x1="679.0" y1="626.0" x2="685.0" y2="708.0" stroke="#000" stroke-width="2.4" />
<path d="M459.4 534.9 L459.4 551.2 M459.4 556 L459.4 558 M459.4 563 L459.4 574.4" stroke="#000" stroke-width="2" fill="none" />
<path d="M459 731.8 L459 745 M459 750 L459 752 M459 757 L459 780.5" stroke="#000" stroke-width="2" fill="none" />
<line x1="433.6" y1="545.2" x2="452.0" y2="545.2" stroke="#000" stroke-width="2" />
<path d="M458.0 545.2 L449.7 541.8 L453.9 545.2 L449.7 548.6 Z" fill="#000" stroke="#000" stroke-width="1" stroke-linejoin="round"/>
<line x1="436.0" y1="772.0" x2="452.0" y2="772.0" stroke="#000" stroke-width="2" />
<path d="M458.0 772.0 L449.7 768.6 L453.9 772.0 L449.7 775.4 Z" fill="#000" stroke="#000" stroke-width="1" stroke-linejoin="round"/>
<path d="M601.9 338.2 Q606 352 620 356 Q628 359 629.4 365.8" stroke="#000" stroke-width="1.8" fill="none" />
<path d="M428.4 491.8 Q427 503 432 514 Q440 522 442.2 530.6" stroke="#000" stroke-width="1.8" fill="none" />
<path d="M370 522.8 Q374 545 383 563 Q392 580 409.5 592.5" stroke="#000" stroke-width="1.8" fill="none" />
<path d="M748.7 544.4 Q738 546 728.8 551.3 Q718 548 709 547.5 L696 548.2" stroke="#000" stroke-width="1.8" fill="none" />
<path d="M753.3 578.8 Q744 580 738 577 Q734 576 731 580.4" stroke="#000" stroke-width="1.8" fill="none" />
<path d="M688.6 673.1 Q698 673 702 680 Q707 690 713.6 690.3" stroke="#000" stroke-width="1.8" fill="none" />
<path d="M411.6 724.6 Q425 722 432 712 Q437 703 443.2 701.7" stroke="#000" stroke-width="1.8" fill="none" />
<path d="M545 706 L543.5 693 Q540 680 532 668.7 Q528 655 529 634" stroke="#000" stroke-width="1.8" fill="none" />
<path d="M611.8 697.4 Q611 686 606.6 680 Q593 670 589.4 657.2 L588 633" stroke="#000" stroke-width="1.8" fill="none" />
<text x="587.2" y="334.9" font-family="Liberation Sans" font-size="23.7" textLength="25.4" lengthAdjust="spacingAndGlyphs">34</text>
<text x="412.0" y="486.4" font-family="Liberation Sans" font-size="25.6" textLength="25.0" lengthAdjust="spacingAndGlyphs">26</text>
<text x="345.0" y="512.2" font-family="Liberation Sans" font-size="26.7" textLength="38.7" lengthAdjust="spacingAndGlyphs">30ɑ</text>
<text x="753.3" y="547.9" font-family="Liberation Sans" font-size="23.7" textLength="42.1" lengthAdjust="spacingAndGlyphs">34ɑ</text>
<text x="766.3" y="584.7" font-family="Liberation Sans" font-size="26.0" textLength="41.3" lengthAdjust="spacingAndGlyphs">28ɑ</text>
<text x="720.7" y="701.3" font-family="Liberation Sans" font-size="26.4" textLength="23.5" lengthAdjust="spacingAndGlyphs">28</text>
<text x="599.5" y="725.7" font-family="Liberation Sans" font-size="26.3" textLength="23.8" lengthAdjust="spacingAndGlyphs">36</text>
<text x="531.5" y="732.9" font-family="Liberation Sans" font-size="24.3" textLength="22.1" lengthAdjust="spacingAndGlyphs">32</text>
<text x="381.5" y="732.9" font-family="Liberation Sans" font-size="24.3" textLength="23.0" lengthAdjust="spacingAndGlyphs">30</text>
<text x="413.0" y="553.8" font-family="Liberation Serif" font-size="27.5" textLength="18.9" lengthAdjust="spacingAndGlyphs">IV</text>
<text x="410.2" y="780.5" font-family="Liberation Serif" font-size="27.0" textLength="20.1" lengthAdjust="spacingAndGlyphs">IV</text>
<ellipse cx="395.6" cy="281.4" rx="1.3" ry="1.0" fill="#000" stroke="#000" stroke-width="0.01" />
<path d="M465 956 L465 921.5 L490.5 921.5 M465 938.5 L485 938.5" stroke="#000" stroke-width="3.8" fill="none" stroke-linecap="round" stroke-linejoin="round"/>
<line x1="505.0" y1="935.0" x2="505.0" y2="957.0" stroke="#000" stroke-width="3.8" />
<circle cx="505.0" cy="924.5" r="2.1" fill="#000" stroke="#000" stroke-width="0.01" />
<path d="M539.5 936 L539.5 962 Q539.5 968 533 968 L524 968 Q521 968 521 966" stroke="#000" stroke-width="3.8" fill="none" stroke-linecap="round"/>
<path d="M539.5 944 Q539.5 936 529 936 Q518 936 518 946.5 Q518 957 529 957 Q539.5 957 539.5 949" stroke="#000" stroke-width="3.8" fill="none" />
<circle cx="558.5" cy="957.2" r="2.2" fill="#000" stroke="#000" stroke-width="0.01" />
<path d="M575.5 931 Q577 924 585 924 Q594.5 924 594.5 932 Q594.5 937 588 943 L575 958.5 L595 958.5" stroke="#000" stroke-width="3.8" fill="none" stroke-linejoin="round"/>
<path d="M290.5 1074.6 L771.0 1082.2 A96 96 0 1 1 752.9 1272.8 L529.7 1233.6 L302.4 1265.7 A96 96 0 1 1 290.5 1074.6 Z" stroke="#000" stroke-width="2.3" fill="none" stroke-linejoin="round"/>
<path d="M290.4 1081.1 L770.9 1088.7 A89.5 89.5 0 1 1 754.2 1266.4 L529.7 1227.3 L301.4 1259.2 A89.5 89.5 0 1 1 290.4 1081.1 Z" stroke="#000" stroke-width="2.3" fill="none" stroke-linejoin="round"/>
<circle cx="289.0" cy="1170.6" r="89.0" fill="none" stroke="#000" stroke-width="2.3" />
<circle cx="769.5" cy="1178.2" r="89.5" fill="none" stroke="#000" stroke-width="2.3" />
<circle cx="289.0" cy="1170.8" r="17.5" fill="none" stroke="#000" stroke-width="3" />
<circle cx="770.2" cy="1179.0" r="17.7" fill="none" stroke="#000" stroke-width="3" />
<circle cx="529.5" cy="1281.2" r="44.5" fill="none" stroke="#000" stroke-width="2.6" />
<path d="M529.7 1031 L529.7 1132 M529.7 1138 L529.7 1146 M529.7 1152 L529.7 1343" stroke="#000" stroke-width="2" fill="none" />
<path d="M374.6 1180.6 L383.8 1180.6 L396.0 1165.3 L420.5 1169.9 L425.1 1189.8 L437.3 1192.2 L446.5 1174.5 L469.4 1177.5 L474.0 1197.4 L486.2 1199.0 L493.9 1180.6 L518.4 1183.0 L524.5 1202.0 L536.7 1202.6 L542.8 1183.6 L565.8 1182.1 L573.4 1199.0 L585.7 1200.5 L591.8 1180.6 L616.3 1178.1 L623.9 1195.3 L634.6 1195.3 L640.7 1174.5 L660.6 1170.8 L671.3 1186.1 L680.5 1186.7" fill="none" stroke="#000" stroke-width="3.3" stroke-linejoin="round" />
<path d="M148.4 1034.5 L162.2 1045.2 L158.4 1055.2 L155.3 1065.9 L166.0 1072.8 L181.3 1060.5 L199.7 1073.5 L197.4 1084.2 L194.3 1095.0 L205.0 1101.0 L219.5 1088.8 L233.3 1095.0" fill="none" stroke="#000" stroke-width="3.2" stroke-linejoin="round" />
<path d="M817.8 1110.9 L836.8 1099.7 L851 1110 Q854 1112.5 857 1111 L861 1108.5 Q863 1106 862.5 1103 L858.2 1086 L878 1072.2 L892 1082.5 Q895 1084 898 1082.5 L901.5 1080.5 Q903.5 1078.5 903 1075.5 L898.7 1060 Q898.5 1055 903.8 1052.4" stroke="#000" stroke-width="3.2" fill="none" stroke-linejoin="round"/>
<line x1="896.9" y1="1055.8" x2="907.2" y2="1049.8" stroke="#000" stroke-width="2.4" />
<line x1="200.4" y1="1041.4" x2="238.7" y2="1067.1" stroke="#000" stroke-width="2.2" />
<line x1="238.7" y1="1067.1" x2="234.0" y2="1058.3" stroke="#000" stroke-width="2.2" stroke-linecap="round"/>
<line x1="238.7" y1="1067.1" x2="228.8" y2="1066.1" stroke="#000" stroke-width="2.2" stroke-linecap="round"/>
<line x1="819.0" y1="1075.8" x2="854.0" y2="1051.3" stroke="#000" stroke-width="2.2" />
<line x1="854.0" y1="1051.3" x2="844.1" y2="1052.5" stroke="#000" stroke-width="2.2" stroke-linecap="round"/>
<line x1="854.0" y1="1051.3" x2="849.5" y2="1060.2" stroke="#000" stroke-width="2.2" stroke-linecap="round"/>
<line x1="401.0" y1="1061.6" x2="361.0" y2="1061.6" stroke="#000" stroke-width="2.2" />
<line x1="361.0" y1="1061.6" x2="369.8" y2="1066.3" stroke="#000" stroke-width="2.2" stroke-linecap="round"/>
<line x1="361.0" y1="1061.6" x2="369.8" y2="1056.9" stroke="#000" stroke-width="2.2" stroke-linecap="round"/>
<path d="M389 1037 Q384 1043 389 1049 Q393 1055 388 1061.6" stroke="#000" stroke-width="1.8" fill="none" />
<line x1="638.0" y1="1063.5" x2="670.0" y2="1063.5" stroke="#000" stroke-width="2.2" />
<line x1="670.0" y1="1063.5" x2="661.2" y2="1058.8" stroke="#000" stroke-width="2.2" stroke-linecap="round"/>
<line x1="670.0" y1="1063.5" x2="661.2" y2="1068.2" stroke="#000" stroke-width="2.2" stroke-linecap="round"/>
<path d="M639 1036 Q634 1043 639 1050 Q643 1056 638 1063.5" stroke="#000" stroke-width="1.8" fill="none" />
<line x1="367.3" y1="1271.5" x2="409.4" y2="1264.4" stroke="#000" stroke-width="2.2" />
<line x1="409.4" y1="1264.4" x2="399.9" y2="1261.2" stroke="#000" stroke-width="2.2" stroke-linecap="round"/>
<line x1="409.4" y1="1264.4" x2="401.5" y2="1270.5" stroke="#000" stroke-width="2.2" stroke-linecap="round"/>
<path d="M382 1271.5 Q376 1278 382 1284 Q387 1290 382 1295" stroke="#000" stroke-width="1.8" fill="none" />
<line x1="691.3" y1="1277.0" x2="651.3" y2="1271.5" stroke="#000" stroke-width="2.2" />
<line x1="651.3" y1="1271.5" x2="659.4" y2="1277.3" stroke="#000" stroke-width="2.2" stroke-linecap="round"/>
<line x1="651.3" y1="1271.5" x2="660.7" y2="1268.0" stroke="#000" stroke-width="2.2" stroke-linecap="round"/>
<path d="M672 1276 Q666 1282 672 1288 Q677 1294 672 1299" stroke="#000" stroke-width="1.8" fill="none" />
<line x1="513.3" y1="1339.0" x2="513.3" y2="1299.0" stroke="#000" stroke-width="2.2" />
<line x1="513.3" y1="1299.0" x2="509.1" y2="1308.1" stroke="#000" stroke-width="2.2" stroke-linecap="round"/>
<line x1="513.3" y1="1299.0" x2="517.5" y2="1308.1" stroke="#000" stroke-width="2.2" stroke-linecap="round"/>
<path d="M351.4 1186.4 Q352 1148 332.5 1122.7" stroke="#000" stroke-width="2.2" fill="none" />
<line x1="332.5" y1="1122.7" x2="334.4" y2="1133.5" stroke="#000" stroke-width="2.2" stroke-linecap="round"/>
<line x1="332.5" y1="1122.7" x2="342.0" y2="1128.2" stroke="#000" stroke-width="2.2" stroke-linecap="round"/>
<path d="M708.4 1191.5 Q700 1140 748.8 1115.8" stroke="#000" stroke-width="2.2" fill="none" />
<line x1="748.8" y1="1115.8" x2="737.8" y2="1116.8" stroke="#000" stroke-width="2.2" stroke-linecap="round"/>
<line x1="748.8" y1="1115.8" x2="742.5" y2="1124.8" stroke="#000" stroke-width="2.2" stroke-linecap="round"/>
<path d="M241.3 1098.6 L238.7 1121.0 L248.2 1126.1 L263.7 1112.4 L284.3 1121.8 L282.6 1145.0" fill="none" stroke="#000" stroke-width="2" stroke-linejoin="round" stroke-dasharray="6 4"/>
<path d="M306.7 1133.0 L328.2 1140.8 L328.2 1162.3 L337.7 1166.6 L349.7 1152.0 L373.8 1158.8 L375.5 1170.9" fill="none" stroke="#000" stroke-width="2" stroke-linejoin="round" stroke-dasharray="6 4"/>
<path d="M281.4 1153.9 L270.9 1141.1 L262.0 1138.5 L254.0 1147.5 L257.5 1156.0 L271.3 1165.0" fill="none" stroke="#000" stroke-width="2" stroke-linejoin="round" stroke-dasharray="6 4"/>
<path d="M305.5 1162.2 L318.4 1150.0 L320.7 1140.7 L311.3 1133.3 L302.8 1137.5 L293.8 1152.8" fill="none" stroke="#000" stroke-width="2" stroke-linejoin="round" stroke-dasharray="6 4"/>
<path d="M297.8 1187.2 L307.6 1198.0 L316.3 1199.7 L323.7 1190.3 L320.0 1182.3 L307.0 1175.3" fill="none" stroke="#000" stroke-width="2" stroke-linejoin="round" stroke-dasharray="6 4"/>
<path d="M272.0 1178.2 L260.1 1187.4 L257.6 1195.9 L266.4 1204.1 L274.7 1200.9 L283.0 1188.4" fill="none" stroke="#000" stroke-width="2" stroke-linejoin="round" stroke-dasharray="6 4"/>
<path d="M763.1 1161.8 L753.8 1149.4 L745.2 1146.7 L736.8 1155.3 L739.9 1163.8 L752.7 1172.6" fill="none" stroke="#000" stroke-width="2" stroke-linejoin="round" stroke-dasharray="6 4"/>
<path d="M787.4 1171.9 L800.5 1161.9 L803.3 1153.2 L794.7 1144.8 L786.0 1148.1 L776.6 1161.5" fill="none" stroke="#000" stroke-width="2" stroke-linejoin="round" stroke-dasharray="6 4"/>
<path d="M777.2 1196.2 L786.3 1208.6 L794.8 1211.3 L803.2 1202.7 L800.2 1194.2 L787.6 1185.5" fill="none" stroke="#000" stroke-width="2" stroke-linejoin="round" stroke-dasharray="6 4"/>
<path d="M753.0 1186.0 L740.5 1195.2 L737.7 1203.8 L746.3 1212.2 L754.8 1209.2 L763.7 1196.4" fill="none" stroke="#000" stroke-width="2" stroke-linejoin="round" stroke-dasharray="6 4"/>
<path d="M684.3 1184.6 L685.2 1164.0 L711.0 1158.0 L717.9 1172.6 L730.0 1170.9 L731.6 1150.2 L754.0 1141.6 L766.0 1158.0" fill="none" stroke="#000" stroke-width="2" stroke-linejoin="round" stroke-dasharray="6 4"/>
<path d="M775.5 1153.7 L774.6 1131.3 L795.3 1122.7 L814.2 1135.6 L821.1 1130.4 L817.7 1111.5 L829.7 1105.5" fill="none" stroke="#000" stroke-width="2" stroke-linejoin="round" stroke-dasharray="6 4"/>
<path d="M172.4 1184.1 L189.7 1189.8 Q195 1193 212.6 1196.1 Q225 1196 233.2 1193.3 L262 1190" stroke="#000" stroke-width="2" fill="none" stroke-dasharray="6 4"/>
<path d="M793.6 1191.5 Q826 1196 860 1183.8 L884 1181" stroke="#000" stroke-width="2" fill="none" stroke-dasharray="6 4"/>
<path d="M885.8 1045.5 Q895 1049 900.3 1054 Q907 1060 910.6 1067.9 Q914 1080 917.5 1095.4" stroke="#000" stroke-width="1.8" fill="none" />
<path d="M708.8 1060.5 Q715 1070 718 1100 Q720 1120 723.9 1130.4" stroke="#000" stroke-width="1.8" fill="none" />
<path d="M411 1141 Q395 1145 380 1162 Q370 1168 354.9 1170" stroke="#000" stroke-width="1.8" fill="none" />
<path d="M194.8 1242 Q200 1237 210 1236.9 Q222 1237 227.5 1235.7 Q233 1233 237.3 1228.3" stroke="#000" stroke-width="1.8" fill="none" />
<path d="M866.4 1251.7 Q855 1250 850 1240 Q845 1230 834.9 1227.7" stroke="#000" stroke-width="1.8" fill="none" />
<path d="M590 1311.5 Q583 1302 567 1299" stroke="#000" stroke-width="1.8" fill="none" />
<path d="M731.2 1290.5 Q726 1285 729 1278 Q731 1272 727 1267.3" stroke="#000" stroke-width="1.8" fill="none" />
<path d="M492.5 1027 Q499 1029 501 1037 Q503 1046 511 1049 L529 1053" stroke="#000" stroke-width="1.6" fill="none" stroke-dasharray="16 4 2 4"/>
<text x="383.2" y="1031.5" font-family="Liberation Sans" font-size="22.5" textLength="13.3" lengthAdjust="spacingAndGlyphs">B</text>
<text x="633.0" y="1031.5" font-family="Liberation Sans" font-size="22.5" textLength="13.5" lengthAdjust="spacingAndGlyphs">B</text>
<text x="472.7" y="1033.2" font-family="Liberation Sans" font-size="23.7" textLength="12.1" lengthAdjust="spacingAndGlyphs">C</text>
<text x="699.6" y="1057.4" font-family="Liberation Sans" font-size="24.4" textLength="15.4" lengthAdjust="spacingAndGlyphs">P</text>
<text x="411.0" y="1149.0" font-family="Liberation Sans" font-size="22.8" textLength="15.8" lengthAdjust="spacingAndGlyphs">Q</text>
<text x="913.8" y="1122.7" font-family="Liberation Sans" font-size="25.7" textLength="24.2" lengthAdjust="spacingAndGlyphs">26</text>
<text x="889.3" y="1190.2" font-family="Liberation Sans" font-size="26.1" textLength="23.0" lengthAdjust="spacingAndGlyphs">28</text>
<text x="872.5" y="1263.7" font-family="Liberation Sans" font-size="28.2" textLength="39.8" lengthAdjust="spacingAndGlyphs">28ɑ</text>
<text x="143.8" y="1191.2" font-family="Liberation Sans" font-size="25.8" textLength="24.1" lengthAdjust="spacingAndGlyphs">30</text>
<text x="149.5" y="1253.8" font-family="Liberation Sans" font-size="26.8" textLength="38.4" lengthAdjust="spacingAndGlyphs">30ɑ</text>
<text x="591.6" y="1323.7" font-family="Liberation Sans" font-size="26.8" textLength="24.0" lengthAdjust="spacingAndGlyphs">36</text>
<text x="718.6" y="1315.4" font-family="Liberation Sans" font-size="29.7" textLength="25.3" lengthAdjust="spacingAndGlyphs">32</text>
<text x="375.8" y="1320.0" font-family="Liberation Sans" font-size="27.6" textLength="14.7" lengthAdjust="spacingAndGlyphs">A</text>
<text x="659.7" y="1322.0" font-family="Liberation Sans" font-size="27.6" textLength="16.8" lengthAdjust="spacingAndGlyphs">A</text>
<line x1="210.3" y1="1140.0" x2="210.3" y2="1157.0" stroke="#000" stroke-width="1.7" stroke-dasharray="8 3 1.5 3"/>
<line x1="216.3" y1="1145.0" x2="216.3" y2="1169.0" stroke="#000" stroke-width="1.7" stroke-dasharray="8 3 1.5 3"/>
<line x1="223.2" y1="1153.7" x2="223.2" y2="1183.0" stroke="#000" stroke-width="1.7" stroke-dasharray="8 3 1.5 3"/>
<line x1="229.3" y1="1160.5" x2="229.3" y2="1188.0" stroke="#000" stroke-width="1.7" stroke-dasharray="8 3 1.5 3"/>
<line x1="234.4" y1="1172.6" x2="234.4" y2="1193.0" stroke="#000" stroke-width="1.7" stroke-dasharray="8 3 1.5 3"/>
<line x1="239.6" y1="1179.5" x2="239.6" y2="1224.0" stroke="#000" stroke-width="1.7" stroke-dasharray="8 3 1.5 3"/>
<line x1="245.6" y1="1177.8" x2="245.6" y2="1207.0" stroke="#000" stroke-width="1.7" stroke-dasharray="8 3 1.5 3"/>
<line x1="248.2" y1="1186.0" x2="248.2" y2="1210.5" stroke="#000" stroke-width="1.7" stroke-dasharray="8 3 1.5 3"/>
<line x1="253.3" y1="1188.0" x2="253.3" y2="1210.5" stroke="#000" stroke-width="1.7" stroke-dasharray="8 3 1.5 3"/>
<line x1="257.6" y1="1207.0" x2="257.6" y2="1245.0" stroke="#000" stroke-width="1.7" stroke-dasharray="8 3 1.5 3"/>
<line x1="262.0" y1="1222.5" x2="262.0" y2="1248.0" stroke="#000" stroke-width="1.7" stroke-dasharray="8 3 1.5 3"/>
<line x1="266.3" y1="1231.0" x2="266.3" y2="1255.0" stroke="#000" stroke-width="1.7" stroke-dasharray="8 3 1.5 3"/>
<line x1="270.6" y1="1241.0" x2="270.6" y2="1258.6" stroke="#000" stroke-width="1.7" stroke-dasharray="8 3 1.5 3"/>
<line x1="275.7" y1="1250.0" x2="275.7" y2="1258.6" stroke="#000" stroke-width="1.7" stroke-dasharray="8 3 1.5 3"/>
<line x1="817.7" y1="1110.6" x2="817.7" y2="1133.0" stroke="#000" stroke-width="1.7" stroke-dasharray="8 3 1.5 3"/>
<line x1="822.8" y1="1114.0" x2="822.8" y2="1152.0" stroke="#000" stroke-width="1.7" stroke-dasharray="8 3 1.5 3"/>
<line x1="827.1" y1="1115.8" x2="827.1" y2="1145.0" stroke="#000" stroke-width="1.7" stroke-dasharray="8 3 1.5 3"/>
<line x1="829.7" y1="1112.4" x2="829.7" y2="1129.6" stroke="#000" stroke-width="1.7" stroke-dasharray="8 3 1.5 3"/>
<line x1="817.7" y1="1140.0" x2="817.7" y2="1165.7" stroke="#000" stroke-width="1.7" stroke-dasharray="8 3 1.5 3"/>
<line x1="812.5" y1="1155.4" x2="812.5" y2="1179.5" stroke="#000" stroke-width="1.7" stroke-dasharray="8 3 1.5 3"/>
<line x1="807.3" y1="1155.4" x2="807.3" y2="1186.4" stroke="#000" stroke-width="1.7" stroke-dasharray="8 3 1.5 3"/>
<line x1="803.9" y1="1172.6" x2="803.9" y2="1188.0" stroke="#000" stroke-width="1.7" stroke-dasharray="8 3 1.5 3"/>
<line x1="762.6" y1="1196.7" x2="762.6" y2="1214.0" stroke="#000" stroke-width="1.7" stroke-dasharray="8 3 1.5 3"/>
<line x1="757.4" y1="1201.9" x2="757.4" y2="1227.7" stroke="#000" stroke-width="1.7" stroke-dasharray="8 3 1.5 3"/>
<line x1="754.0" y1="1210.5" x2="754.0" y2="1244.9" stroke="#000" stroke-width="1.7" stroke-dasharray="8 3 1.5 3"/>
<line x1="748.8" y1="1231.0" x2="748.8" y2="1258.6" stroke="#000" stroke-width="1.7" stroke-dasharray="8 3 1.5 3"/>
<line x1="743.7" y1="1251.8" x2="743.7" y2="1262.0" stroke="#000" stroke-width="1.7" stroke-dasharray="8 3 1.5 3"/>
<line x1="499.8" y1="1286.0" x2="499.8" y2="1305.5" stroke="#000" stroke-width="1.7" stroke-dasharray="8 3 1.5 3"/>
<line x1="507.9" y1="1266.5" x2="507.9" y2="1292.5" stroke="#000" stroke-width="1.7" stroke-dasharray="8 3 1.5 3"/>
<line x1="512.8" y1="1263.0" x2="512.8" y2="1286.0" stroke="#000" stroke-width="1.7" stroke-dasharray="8 3 1.5 3"/>
<line x1="519.3" y1="1269.8" x2="519.3" y2="1295.8" stroke="#000" stroke-width="1.7" stroke-dasharray="8 3 1.5 3"/>
<line x1="525.8" y1="1266.5" x2="525.8" y2="1292.5" stroke="#000" stroke-width="1.7" stroke-dasharray="8 3 1.5 3"/>
<line x1="530.6" y1="1260.0" x2="530.6" y2="1282.8" stroke="#000" stroke-width="1.7" stroke-dasharray="8 3 1.5 3"/>
<line x1="537.0" y1="1253.5" x2="537.0" y2="1273.0" stroke="#000" stroke-width="1.7" stroke-dasharray="8 3 1.5 3"/>
<line x1="543.6" y1="1240.5" x2="543.6" y2="1260.0" stroke="#000" stroke-width="1.7" stroke-dasharray="8 3 1.5 3"/>
<line x1="548.5" y1="1239.0" x2="548.5" y2="1250.0" stroke="#000" stroke-width="1.7" stroke-dasharray="8 3 1.5 3"/>
<circle cx="685.5" cy="1504.0" r="0.9" fill="#333" stroke="#000" stroke-width="0.01" />
</svg>
</body></html>
